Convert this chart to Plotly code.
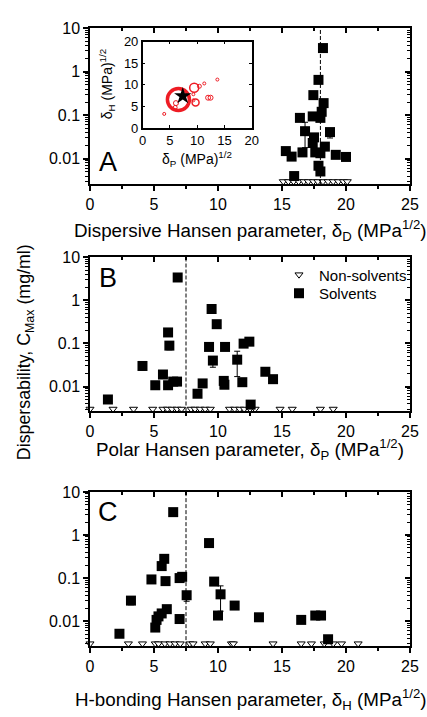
import plotly.graph_objects as go

# ---------------- data ----------------
# Panel A: dispersive parameter (solvents)
A_x = [18.2, 17.85, 17.45, 18.25, 18.1, 17.4, 18.0, 16.4, 16.8, 18.75, 17.5, 17.4,
       18.35, 15.3, 16.6, 17.6, 18.0, 15.75, 19.2, 20.0, 17.85, 18.0, 15.95]
A_y = [3.5, 0.65, 0.29, 0.19, 0.12, 0.094, 0.087, 0.087, 0.043, 0.041, 0.031, 0.023,
       0.019, 0.015, 0.014, 0.014, 0.0134, 0.0112, 0.0123, 0.011, 0.0069, 0.0051, 0.0040]
A_ep = [0, 0, 0, 0, 0, 0, 0, 0, 0.026, 0, 0, 0, 0, 0, 0, 0, 0, 0, 0, 0, 0, 0, 0]
A_em = [0, 0, 0, 0, 0, 0, 0, 0, 0.025, 0.011, 0, 0, 0, 0, 0, 0, 0, 0, 0, 0, 0, 0, 0]

# Panel B: polar parameter (solvents)
B_x = [1.4, 4.1, 5.1, 5.7, 6.1, 6.1, 6.2, 6.5, 6.8, 6.85, 8.4, 8.8, 9.3, 9.5, 9.6, 9.9,
       10.45, 10.5, 10.55, 11.5, 12.0, 11.9, 12.45, 12.55, 13.7, 14.3]
B_y = [0.005, 0.030, 0.0107, 0.019, 0.0107, 0.18, 0.089, 0.013, 0.013, 3.4, 0.0068, 0.0118,
       0.083, 0.63, 0.040, 0.28, 0.0135, 0.011, 0.083, 0.042, 0.099, 0.0126, 0.11, 0.0038,
       0.022, 0.0148]
B_ep = [0, 0, 0, 0, 0, 0, 0, 0, 0, 0, 0, 0, 0, 0, 0, 0, 0, 0, 0, 0.024, 0, 0, 0, 0, 0, 0]
B_em = [0, 0.006, 0, 0, 0, 0, 0.018, 0, 0, 0, 0, 0, 0, 0, 0.012, 0, 0, 0, 0, 0.025, 0, 0, 0,
        0, 0.004, 0]

# Panel C: H-bonding parameter (solvents)
C_x = [2.3, 3.2, 4.8, 5.1, 5.2, 5.35, 5.6, 5.6, 5.8, 5.9, 6.0, 6.5, 7.0, 7.0, 7.2, 7.55,
       9.3, 9.7, 10.0, 10.2, 11.3, 13.2, 16.5, 17.6, 18.05, 18.6]
C_y = [0.0051, 0.030, 0.093, 0.0071, 0.0107, 0.0129, 0.0151, 0.19, 0.28, 0.085, 0.019, 3.4,
       0.0112, 0.10, 0.107, 0.040, 0.65, 0.083, 0.0135, 0.042, 0.023, 0.0123, 0.0107, 0.0135,
       0.0135, 0.0038]
C_ep = [0, 0, 0, 0, 0, 0, 0, 0, 0, 0, 0, 0, 0, 0, 0, 0, 0, 0, 0, 0.024, 0, 0, 0, 0, 0, 0]
C_em = [0, 0.006, 0.018, 0, 0, 0, 0, 0, 0, 0, 0, 0, 0, 0, 0, 0.011, 0, 0, 0, 0.025, 0.004, 0,
        0, 0, 0, 0]

# Non-solvents (plotted at detection floor)
NS_Y = 0.003
NA_x = [15.1, 15.5, 15.9, 16.3, 16.7, 17.05, 17.45, 17.8, 18.2, 18.6, 19.0, 19.4, 19.8, 20.1]
NB_x = [0, 1.8, 3.4, 4.9, 5.7, 6.05, 6.4, 6.8, 7.15, 7.9, 8.2, 8.6, 9.0, 9.4, 10.9, 11.3,
        11.7, 12.05, 12.5, 12.9, 14.85, 15.8, 18.0, 19.0]
NC_x = [0, 3.0, 4.1, 5.1, 5.35, 5.85, 6.25, 6.65, 7.05, 7.8, 8.05, 9.0, 9.4, 11.05, 11.2,
        14.3, 16.5, 17.3, 18.3, 19.0, 19.65, 20.95]

# Dashed reference lines (graphene values)
REF_D, REF_P, REF_H = 18.0, 7.5, 7.5

# Inset: solvents in (dP, dH) space
IN_P = [6.55, 9.45, 9.7, 10.4, 11.3, 13.7, 12.0, 12.45, 6.1, 5.95, 3.95, 9.3, 9.3]
IN_H = [6.6, 9.3, 5.9, 9.65, 10.3, 11.2, 7.0, 7.0, 5.75, 4.75, 3.25, 7.8, 6.4]
IN_S = [22, 9, 7, 4, 3, 3, 5, 5, 5, 4, 3, 3, 3]
IN_W = [3.5, 1.5, 1.5, 1, 1, 1, 1, 1, 1, 1, 1, 1, 1]
STAR_P, STAR_H = 7.35, 7.4

PANELS = [("A", A_x, A_y, A_ep, A_em, NA_x, REF_D,
           "Dispersive Hansen parameter, δ<sub>D</sub> (MPa<sup>1/2</sup>)"),
          ("B", B_x, B_y, B_ep, B_em, NB_x, REF_P,
           "Polar Hansen parameter, δ<sub>P</sub> (MPa<sup>1/2</sup>)"),
          ("C", C_x, C_y, C_ep, C_em, NC_x, REF_H,
           "H-bonding Hansen parameter, δ<sub>H</sub> (MPa<sup>1/2</sup>)")]

# ---------------- layout geometry ----------------
W, H = 427, 717
L, R = 90, 17
def py(p):
    return 1 - p / H
def px(p):
    return (p - L) / (W - L - R)

def ax_id(letter, n):
    return letter if n == 1 else f"{letter}{n}"
def ax_key(letter, n):
    return f"{letter}axis" if n == 1 else f"{letter}axis{n}"

# panel (top, bottom) pixel positions
PANEL_PX = [(20.7, 180.0), (255.0, 412.7), (495.0, 652.7)]
TITLE_PX = [228, 452, 707]
LETTER_PX = [158, 276, 516]

FONT = "Arial, Liberation Sans, sans-serif"
YR = [-2.58, 1.0]
XR = [0, 25]
RED = "#ee1c24"

fig = go.Figure()
annotations = []
shapes = []
layout = {}

for i, (lab, xs, ys, ep, em, nsx, ref, title) in enumerate(PANELS):
    n = i + 1
    xa, ya = ax_id("x", n), ax_id("y", n)
    xo, yo = ax_id("x", n + 3), ax_id("y", n + 3)
    show = (lab == "B")
    fig.add_trace(go.Scatter(
        x=nsx, y=[NS_Y] * len(nsx), xaxis=xa, yaxis=ya, mode="markers",
        name="Non-solvents", showlegend=show, legend="legend", cliponaxis=False,
        marker=dict(symbol="triangle-down", size=7, color="white",
                    line=dict(color="black", width=1))))
    fig.add_trace(go.Scatter(
        x=xs, y=ys, xaxis=xa, yaxis=ya, mode="markers", name="Solvents",
        showlegend=show, legend="legend2", cliponaxis=False,
        error_y=dict(type="data", symmetric=False, array=ep, arrayminus=em,
                     color="black", thickness=1, width=3),
        marker=dict(symbol="square", size=10, color="black",
                    line=dict(color="black", width=0))))
    # overlay dummy for mirrored inner ticks
    fig.add_trace(go.Scatter(x=[None], y=[None], xaxis=xo, yaxis=yo,
                             showlegend=False, hoverinfo="skip"))
    top, bot = PANEL_PX[i]
    dom = [py(bot), py(top)]
    common_x = dict(range=XR, showgrid=False, zeroline=False, linecolor="black",
                    linewidth=1.5, dtick=5, tick0=0, tickwidth=1.5, tickcolor="black",
                    ticklen=5)
    minor_x = dict(dtick=2.5, ticklen=3, tickwidth=1.5, tickcolor="black", showgrid=False)
    common_y = dict(type="log", range=YR, showgrid=False, zeroline=False,
                    linecolor="black", linewidth=1.5, tickwidth=1.5, tickcolor="black",
                    ticklen=5, tickmode="array", tickvals=[0.01, 0.1, 1, 10],
                    ticktext=["0.01", "0.1", "1", "10"])
    minor_y = dict(dtick="D1", ticklen=3, tickwidth=1, tickcolor="black", showgrid=False)
    layout[ax_key("x", n)] = dict(common_x, domain=[0, 1], anchor=ya, ticks="outside",
                                  minor=dict(minor_x, ticks="outside"),
                                  tickfont=dict(size=16, color="black", family=FONT))
    layout[ax_key("y", n)] = dict(common_y, domain=dom, anchor=xa, ticks="outside",
                                  minor=dict(minor_y, ticks="outside"),
                                  tickfont=dict(size=16, color="black", family=FONT))
    layout[ax_key("x", n + 3)] = dict(common_x, overlaying=xa, side="top", anchor=yo,
                                      ticks="inside", showticklabels=False,
                                      minor=dict(minor_x, ticks="inside"))
    layout[ax_key("y", n + 3)] = dict(common_y, domain=dom, overlaying=ya, side="right",
                                      anchor=xo, ticks="inside", showticklabels=False,
                                      minor=dict(minor_y, ticks="inside"))
    shapes.append(dict(type="line", xref=xa, yref=f"{ya} domain", x0=ref, x1=ref,
                       y0=0, y1=1, line=dict(color="black", width=1, dash="4px,2px")))
    annotations.append(dict(text=title, xref="paper", yref="paper", x=0.5,
                            y=py(TITLE_PX[i]), showarrow=False, xanchor="center",
                            yanchor="middle",
                            font=dict(size=18.8, color="black", family=FONT)))
    annotations.append(dict(text=lab, xref="paper", yref="paper", x=px(108),
                            y=py(LETTER_PX[i]), showarrow=False, xanchor="center",
                            yanchor="middle",
                            font=dict(size=27, color="black", family=FONT)))

# inset
fig.add_trace(go.Scatter(x=IN_P, y=IN_H, xaxis="x7", yaxis="y7", mode="markers",
                         showlegend=False, cliponaxis=False,
                         marker=dict(symbol="circle-open", size=IN_S, color=RED, opacity=1,
                                     line=dict(color=RED, width=IN_W))))
fig.add_trace(go.Scatter(x=[STAR_P], y=[STAR_H], xaxis="x7", yaxis="y7", mode="markers",
                         showlegend=False,
                         marker=dict(symbol="star", size=13, color="black", opacity=1)))
inset_ax = dict(range=[0, 20], dtick=5, tick0=0, showgrid=False, zeroline=False,
                linecolor="black", linewidth=1.5, mirror="ticks", ticks="inside",
                ticklen=3, tickwidth=1.2, tickcolor="black",
                tickfont=dict(size=13, color="black", family=FONT))
layout["xaxis7"] = dict(inset_ax, domain=[px(142.7), px(251.7)], anchor="y7")
layout["yaxis7"] = dict(inset_ax, domain=[py(122.7), py(34.3)], anchor="x7")
annotations.append(dict(text="δ<sub>P</sub> (MPa)<sup>1/2</sup>", xref="paper", yref="paper",
                        x=px(197), y=py(154), showarrow=False, xanchor="center",
                        yanchor="middle", font=dict(size=14, color="black", family=FONT)))
annotations.append(dict(text="δ<sub>H</sub> (MPa)<sup>1/2</sup>", xref="paper", yref="paper",
                        x=px(107), y=py(78), showarrow=False, xanchor="center",
                        yanchor="middle", textangle=-90,
                        font=dict(size=14, color="black", family=FONT)))

# common y title
annotations.append(dict(text="Dispersability, C<sub>Max</sub> (mg/ml)", xref="paper",
                        yref="paper", x=px(25), y=py(352), showarrow=False,
                        xanchor="center", yanchor="middle", textangle=-90,
                        font=dict(size=17.8, color="black", family=FONT)))

leg_common = dict(xanchor="left", yanchor="middle", bgcolor="rgba(0,0,0,0)",
                  font=dict(size=15, color="black", family=FONT), itemsizing="trace")

fig.update_layout(
    width=W, height=H, margin=dict(l=L, r=R, t=0, b=0),
    paper_bgcolor="white", plot_bgcolor="white",
    font=dict(family=FONT, color="black"),
    showlegend=True,
    legend=dict(leg_common, x=px(279), y=py(273)),
    legend2=dict(leg_common, x=px(279), y=py(292)),
    annotations=annotations, shapes=shapes,
    **layout)

fig.write_html("out.html")
